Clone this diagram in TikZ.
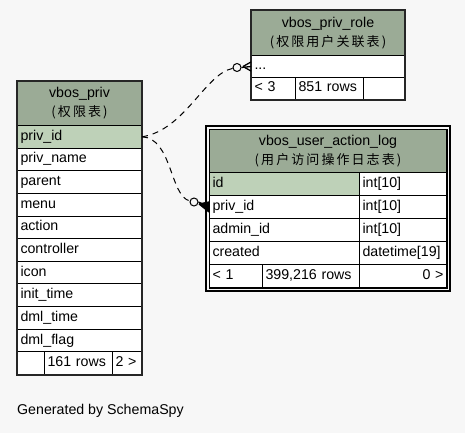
\documentclass[tikz,border=0pt]{standalone}
\usepackage{fontspec}
\setmainfont{Liberation Sans}
\newfontfamily\cjkfont{Noto Sans CJK SC}[LetterSpace=16]
\newcommand\rowfont{\fontsize{14.2}{17}\selectfont}
\newcommand\headfont{\fontsize{14.2}{19}\selectfont}
\newcommand\cjk[1]{{\cjkfont\fontsize{13}{19}\selectfont #1}}
\definecolor{bg}{HTML}{F7F7F7}
\definecolor{hdr}{HTML}{9BAB96}
\definecolor{keyc}{HTML}{BED1B8}
\begin{document}
\begin{tikzpicture}[x=1pt,y=-1pt,
  base/.style={draw=black, line width=1pt, fill=white, anchor=north west,
    inner xsep=3pt, inner ysep=0pt},
  cell/.style={base, text height=10pt, text depth=3pt, font=\rowfont, align=left},
  head/.style={base, fill=hdr, align=center, font=\headfont},
  keyrow/.style={cell, fill=keyc},
  outer/.style={draw=black!85, line width=1.3pt},
  rel/.style={draw=black, line width=1pt, dash pattern=on 6pt off 5pt},
  ring/.style={circle, draw=black, line width=1pt, fill=bg, minimum size=8pt, inner sep=0pt},
  crow/.style={draw=black, line width=1.3pt}
]
\path[use as bounding box, fill=bg] (0,0) rectangle (465,433);

% ---------- vbos_priv ----------
\node[head, text width=118pt, minimum width=124pt, minimum height=44pt] (privH) at (17,81) {vbos\_priv\\\cjk{(权限表)}};
\node[keyrow, text width=118pt, minimum height=22.64pt] (privid) at (17,125) {priv\_id};
\node[cell, text width=118pt, minimum height=22.64pt] (privname) at (17,147.64) {priv\_name};
\node[cell, text width=118pt, minimum height=22.64pt] (parent) at (17,170.28) {parent};
\node[cell, text width=118pt, minimum height=22.64pt] (menu) at (17,192.92) {menu};
\node[cell, text width=118pt, minimum height=22.64pt] (action) at (17,215.56) {action};
\node[cell, text width=118pt, minimum height=22.64pt] (controller) at (17,238.2) {controller};
\node[cell, text width=118pt, minimum height=22.64pt] (icon) at (17,260.84) {icon};
\node[cell, text width=118pt, minimum height=22.64pt] (inittime) at (17,283.48) {init\_time};
\node[cell, text width=118pt, minimum height=22.64pt] (dmltime) at (17,306.12) {dml\_time};
\node[cell, text width=118pt, minimum height=22.64pt] (dmlflag) at (17,328.76) {dml\_flag};
\node[cell, text width=21pt, minimum height=22.64pt] (privF1) at (17,351.4) {};
\node[cell, text width=62pt, minimum height=22.64pt] (privF2) at (44,351.4) {161 rows};
\node[cell, text width=23pt, minimum height=22.64pt] (privF3) at (112,351.4) {2 >};
\draw[outer] (privH.north west) rectangle (privF3.south east);

% ---------- vbos_priv_role ----------
\node[head, text width=147pt, minimum width=153pt, minimum height=45pt] (roleH) at (251,10) {vbos\_priv\_role\\\cjk{(权限用户关联表)}};
\node[cell, text width=147pt, minimum height=22pt] (roledots) at (251,55) {...};
\node[cell, text width=38pt, minimum height=22pt] (roleF1) at (251,77) {< 3};
\node[cell, text width=62pt, minimum height=22pt] (roleF2) at (295,77) {851 rows};
\node[cell, text width=35pt, minimum height=22pt] (roleF3) at (363,77) {};
\draw[outer] (roleH.north west) rectangle (roleF3.south east);

% ---------- vbos_user_action_log ----------
\node[head, text width=231pt, minimum width=237pt, minimum height=43pt] (logH) at (209,129) {vbos\_user\_action\_log\\\cjk{(用户访问操作日志表)}};
\node[keyrow, text width=144pt, minimum height=23pt] (logid) at (209,172) {id};
\node[cell, text width=81pt, minimum height=23pt] (logidT) at (359,172) {int[10]};
\node[cell, text width=144pt, minimum height=23pt] (logpriv) at (209,195) {priv\_id};
\node[cell, text width=81pt, minimum height=23pt] (logprivT) at (359,195) {int[10]};
\node[cell, text width=144pt, minimum height=23pt] (logadmin) at (209,218) {admin\_id};
\node[cell, text width=81pt, minimum height=23pt] (logadminT) at (359,218) {int[10]};
\node[cell, text width=144pt, minimum height=23pt] (logcreated) at (209,241) {created};
\node[cell, text width=81pt, minimum height=23pt] (logcreatedT) at (359,241) {datetime[19]};
\node[cell, text width=47pt, minimum height=23pt] (logF1) at (209,264) {< 1};
\node[cell, text width=91pt, minimum height=23pt] (logF2) at (262,264) {399,216 rows};
\node[cell, text width=81pt, minimum height=23pt, align=right] (logF3) at (359,264) {0 >};
\draw[black, line width=1pt] (logH.north west) rectangle (logF3.south east);
\draw[black, line width=2pt] ([xshift=-3pt,yshift=3pt]logH.north west) rectangle ([xshift=3pt,yshift=-3pt]logF3.south east);

% ---------- relationships ----------
\node[ring] (o1) at (237,67.5) {};
\node[ring] (o2) at (194,202) {};
\draw[rel] (privid.east) .. controls (185,130) and (205,74) .. (o1);
\draw[rel] (privid.east) .. controls (172,138) and (170,196) .. (o2);
\coordinate (c1) at (243,66.5);
\draw[crow] (o1.east) -- (roledots.west);
\draw[crow] (c1) -- ([yshift=4.5pt]roledots.west);
\draw[crow] (c1) -- ([yshift=-4.5pt]roledots.west);
\coordinate (c2) at (199,204);
\draw[crow] (o2.east) -- (logpriv.west);
\draw[crow] (c2) -- ([yshift=5pt]logpriv.west);
\draw[crow] (c2) -- ([yshift=-5pt]logpriv.west);
\fill[black] (c2) -- ([yshift=5pt]logpriv.west) -- ([yshift=-5pt]logpriv.west) -- cycle;

\node[anchor=west, font=\rowfont, inner sep=0pt] (gen) at (17,411) {Generated by SchemaSpy};
\end{tikzpicture}
\end{document}
